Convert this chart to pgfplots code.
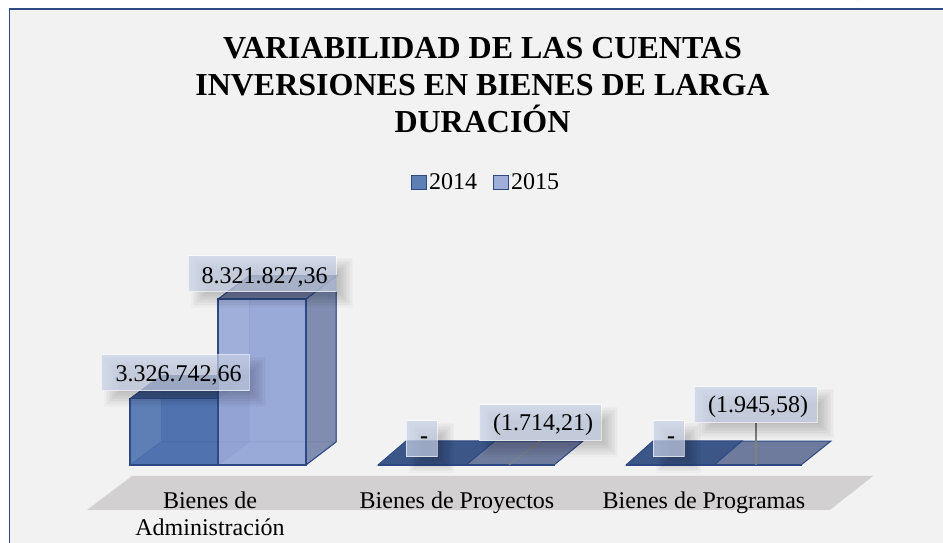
\documentclass[border=0pt]{standalone}
\usepackage{fontspec}
\setmainfont{Liberation Serif}
\usepackage{pgfplots}
\pgfplotsset{compat=1.18}
\definecolor{panel}{HTML}{F2F2F2}
\definecolor{frameblue}{HTML}{2F4C85}
\definecolor{floorc}{HTML}{D2D0D0}
\definecolor{edgeb}{HTML}{2D4A85}
\definecolor{fillA}{HTML}{4F72B0}
\definecolor{fillB}{HTML}{98A8D8}
\definecolor{sideB}{HTML}{7C89AC}
\definecolor{topA}{HTML}{3C5688}
\definecolor{topB}{HTML}{6F7B9C}
\definecolor{boxc}{HTML}{C6D0E6}
\newcommand{\labelbox}[4]{%
  \foreach \r in {-8,-6.5,...,8}{\fill[black,opacity=0.018]
    ({(#1+10-(\r))*1pt},{(543-(#2)-9+(\r))*1pt}) rectangle ({(#3+10+(\r))*1pt},{(543-(#4)-9-(\r))*1pt});}
  \fill[boxc,opacity=0.72] ({#1*1pt},{(543-#2)*1pt}) rectangle ({#3*1pt},{(543-#4)*1pt});
  \draw[white,opacity=0.6,line width=1pt] ({#1*1pt},{(543-#2)*1pt}) rectangle ({#3*1pt},{(543-#4)*1pt});
}
\begin{document}
\begin{tikzpicture}
\useasboundingbox (0,0) rectangle (943pt,543pt);
\fill[white] (0,0) rectangle (943pt,543pt);
\begin{scope}
\clip (0,0) rectangle (943pt,543pt);
\fill[panel] (9.5pt,-2pt) rectangle (945pt,534pt);
\draw[frameblue,line width=1.2pt] (9.5pt,-2pt) -- (9.5pt,534pt) -- (945pt,534pt);
\node[font=\bfseries\fontsize{32}{36}\selectfont,anchor=base] at (859pt,549pt) {g};
\end{scope}
\fill[floorc] (132pt,67pt) -- (873pt,67pt) -- (830pt,33pt) -- (87pt,33pt) -- cycle;
\begin{axis}[
  scale only axis, width=943pt, height=543pt,
  xmin=0, xmax=943, ymin=-3910296, ymax=23311380,
  axis line style={draw=none}, major tick length=0pt,
  ytick=\empty, xtick={210,457,704},
  xtick pos=lower,
  xticklabels={Bienes de\\Administración,Bienes de Proyectos,Bienes de Programas},
  xticklabel style={align=center,anchor=north,yshift=55pt,
    font=\fontsize{24}{27}\selectfont},
  legend style={at={(axis cs:486,14170000)},anchor=center,
    legend columns=2,draw=none,fill=none,
    font=\fontsize{24}{26}\selectfont,
    /tikz/column 2/.style={column sep=14pt}},
  legend image code/.code={\draw[#1,line width=1pt] (0pt,-7pt) rectangle (15pt,7pt);},
  clip=false,
]
% 2014 solid parts
\addplot[forget plot,fill=fillA,fill opacity=0.9,draw=edgeb,line width=1pt]
  coordinates {(161,1153036)(249,1153036)(249,4479779)(161,4479779)} -- cycle;
\addplot[forget plot,fill=fillA,fill opacity=0.9,draw=edgeb,line width=1pt]
  coordinates {(130,0)(218,0)(249,1153036)(161,1153036)} -- cycle;
\addplot[forget plot,fill=topA,draw=edgeb,line width=1pt]
  coordinates {(130,3326742.66)(218,3326742.66)(249,4479779)(161,4479779)} -- cycle;
\addplot[forget plot,fill=topA,draw=edgeb,line width=1pt]
  coordinates {(378,0)(466,0)(495,1203168)(406,1203168)} -- cycle;
\addplot[forget plot,fill=topA,draw=edgeb,line width=1pt]
  coordinates {(626,0)(714,0)(742,1203168)(653,1203168)} -- cycle;
\addplot[ybar,bar width=88,bar shift=0pt,fill=fillA,fill opacity=0.9,draw=edgeb,line width=1.2pt]
  coordinates {(174,3326742.66)(422,0)(670,0)};
\addlegendentry{2014}
% 2015 parts
\addplot[forget plot,fill=fillB,fill opacity=0.85,draw=edgeb,draw opacity=0.45,line width=1pt]
  coordinates {(249,1153036)(336,1153036)(336,9474863)(249,9474863)} -- cycle;
\addplot[forget plot,fill=fillB,fill opacity=0.85,draw=edgeb,draw opacity=0.45,line width=1pt]
  coordinates {(218,0)(306,0)(336,1153036)(249,1153036)} -- cycle;
\addplot[forget plot,fill=sideB,fill opacity=0.9,draw=edgeb,line width=1pt]
  coordinates {(306,0)(336,1153036)(336,9474863)(306,8321827.36)} -- cycle;
\addplot[forget plot,fill=topB,draw=edgeb,line width=1pt]
  coordinates {(218,8321827.36)(306,8321827.36)(336,9474863)(249,9474863)} -- cycle;
\addplot[forget plot,fill=topB,draw=edgeb,line width=1pt]
  coordinates {(466,-1714.21)(554,-1714.21)(583,1201454)(495,1201454)} -- cycle;
\addplot[forget plot,fill=topB,draw=edgeb,line width=1pt]
  coordinates {(714,-1945.58)(801,-1945.58)(831,1201222)(742,1201222)} -- cycle;
\addplot[ybar,bar width=88,bar shift=0pt,fill=fillB,fill opacity=0.9,draw=edgeb,line width=1.2pt]
  coordinates {(262,8321827.36)(510,-1714.21)(757.5,-1945.58)};
\addlegendentry{2015}
% leader lines
\addplot[forget plot,gray,line width=1pt] coordinates {(509,-1714.21)(540,1203168)};
\addplot[forget plot,gray,line width=1.2pt] coordinates {(756,-1945.58)(756,2105544)};
\end{axis}
\labelbox{188}{256}{336}{292}
\labelbox{101}{355}{249}{391}
\labelbox{479}{405}{601}{441}
\labelbox{694}{387}{817}{423}
\labelbox{406}{421}{437}{457}
\labelbox{653}{421}{684}{457}
\begin{scope}[every node/.style={font=\fontsize{24}{26}\selectfont,inner sep=0pt}]
\node at (264.5pt,265.5pt) {8.321.827,36};
\node at (178.5pt,167.5pt) {3.326.742,66};
\node at (543pt,118pt) {(1.714,21)};
\node at (758pt,136pt) {(1.945,58)};
\node[font=\bfseries\fontsize{24}{26}\selectfont] at (424pt,103pt) {-};
\node[font=\bfseries\fontsize{24}{26}\selectfont] at (671pt,103pt) {-};
\node[font=\bfseries\fontsize{32}{37}\selectfont,align=center] at (482.5pt,458pt)
 {VARIABILIDAD DE LAS CUENTAS\\INVERSIONES EN BIENES DE LARGA\\DURACIÓN};
\end{scope}
\end{tikzpicture}
\end{document}
